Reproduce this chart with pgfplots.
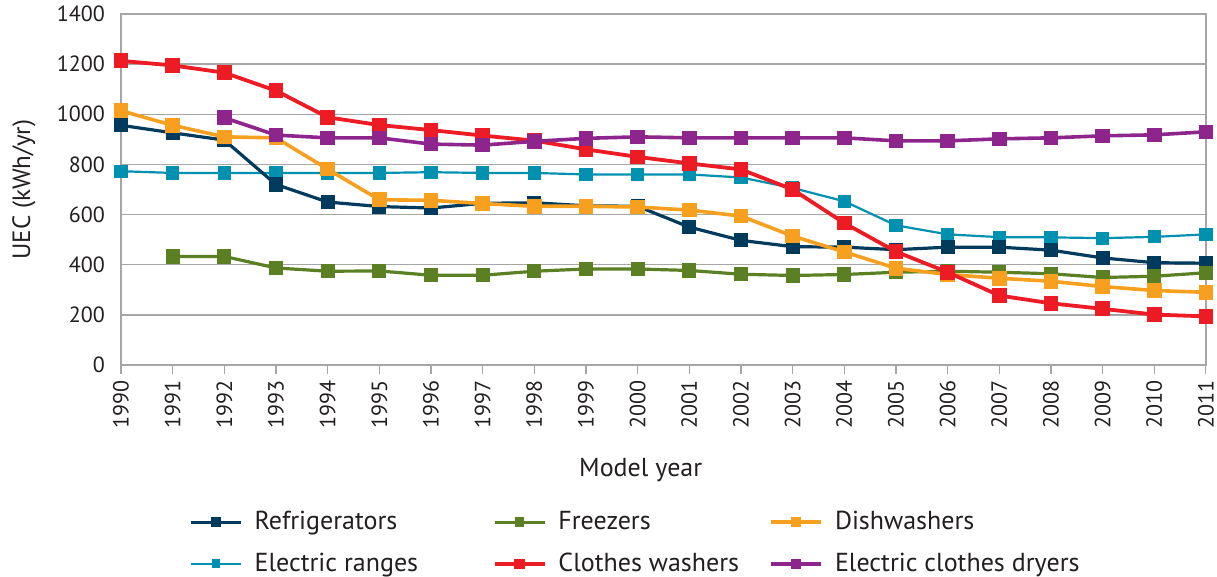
\documentclass[border=0pt]{standalone}
\usepackage{pgfplots}
\pgfplotsset{compat=1.18}
\usepackage{fontspec}
\setmainfont{PT Sans}
\definecolor{cnavy}{HTML}{003A5D}
\definecolor{cgreen}{HTML}{5B7F23}
\definecolor{corange}{HTML}{F7A020}
\definecolor{cteal}{HTML}{0091B0}
\definecolor{cred}{HTML}{ED1C24}
\definecolor{cpurple}{HTML}{8E258D}
\definecolor{cgrid}{HTML}{A6A6A6}
\definecolor{ctext}{HTML}{231F20}
\begin{document}
\begin{tikzpicture}
\begin{axis}[
  scale only axis,
  width=542.5pt, height=175.5pt,
  xmin=1990, xmax=2011, ymin=0, ymax=1400,
  xtick={1990,...,2011},
  ytick={0,200,...,1400},
  xticklabel style={rotate=90, anchor=east, inner sep=1pt, xshift=-2pt, font=\fontsize{11}{12}\selectfont, text=ctext},
  yticklabel style={font=\fontsize{11}{12}\selectfont, text=ctext},
  /pgf/number format/assume math mode=true,
  /pgf/number format/1000 sep={},
  xticklabel={\pgfmathprintnumber[1000 sep={}]{\tick}},
  tick align=outside,
  xtick pos=bottom,
  ytick style={draw=none},
  major tick length=4.5pt,
  xtick style={cgrid, line width=0.6pt},
  axis line style={cgrid, line width=0.7pt},
  ymajorgrids,
  grid style={cgrid, line width=0.7pt},
  ylabel={UEC (kWh/yr)},
  ylabel style={font=\fontsize{12.5}{14}\selectfont, text=ctext, at={(axis description cs:-0.0894,0.5)}, anchor=center},
  xlabel={Model year},
  xlabel style={font=\fontsize{13}{15}\selectfont, text=ctext, at={(axis description cs:0.479,-0.299)}, anchor=center},
  mark size=2.75pt,
  every axis plot/.append style={mark=square*},
  legend columns=3,
  legend style={at={(0.0627,-0.405)}, anchor=north west, draw=none, inner sep=0pt,
    font=\fontsize{13}{15}\selectfont, text=ctext, row sep=6pt,
    /tikz/every even column/.append style={column sep=10pt},
    /tikz/every odd column/.append style={column sep=4pt}},
  legend cell align=left,
  legend image code/.code={\draw[#1, mark size=1.6pt, mark repeat=2, mark phase=2] plot coordinates {(0pt,0pt) (12.5pt,0pt) (25pt,0pt)};},
]
\coordinate (sw) at (rel axis cs:0,0);
\coordinate (ne) at (rel axis cs:1,1);
% Electric ranges drawn first (below others)
\addplot[cteal, line width=1.1pt, mark options={fill=cteal}, forget plot] coordinates {
(1990,773)(1991,766)(1992,766)(1993,766)(1994,766)(1995,766)(1996,769)(1997,766)(1998,766)(1999,760)(2000,760)(2001,760)(2002,748)(2003,706)(2004,653)(2005,557)(2006,521)(2007,510)(2008,509)(2009,506)(2010,511)(2011,521)};
\addplot[cnavy, line width=1.6pt, mark options={fill=cnavy}] coordinates {
(1990,956)(1991,926)(1992,897)(1993,720)(1994,650)(1995,632)(1996,626)(1997,645)(1998,647)(1999,635)(2000,633)(2001,550)(2002,497)(2003,472)(2004,470)(2005,460)(2006,470)(2007,470)(2008,458)(2009,427)(2010,408)(2011,406)};
\addlegendentry{\makebox[107pt][l]{Refrigerators}}
\addplot[cgreen, line width=1.6pt, mark options={fill=cgreen}] coordinates {
(1991,433)(1992,433)(1993,387)(1994,374)(1995,375)(1996,358)(1997,358)(1998,374)(1999,383)(2000,383)(2001,377)(2002,362)(2003,357)(2004,361)(2005,370)(2006,374)(2007,370)(2008,364)(2009,349)(2010,354)(2011,368)};
\addlegendentry{\makebox[93.5pt][l]{Freezers}}
\addplot[corange, line width=1.8pt, mark options={fill=corange}] coordinates {
(1990,1014)(1991,956)(1992,910)(1993,906)(1994,781)(1995,659)(1996,657)(1997,644)(1998,633)(1999,633)(2000,630)(2001,618)(2002,594)(2003,514)(2004,451)(2005,386)(2006,361)(2007,346)(2008,334)(2009,313)(2010,297)(2011,290)};
\addlegendentry{Dishwashers}
\addlegendimage{cteal, line width=1.1pt, mark=square*, mark options={fill=cteal}}
\addlegendentry{\makebox[107pt][l]{Electric ranges}}
\addplot[cred, line width=1.9pt, mark options={fill=cred}] coordinates {
(1990,1213)(1991,1195)(1992,1166)(1993,1094)(1994,988)(1995,957)(1996,937)(1997,915)(1998,895)(1999,860)(2000,830)(2001,804)(2002,780)(2003,700)(2004,566)(2005,452)(2006,370)(2007,277)(2008,246)(2009,224)(2010,201)(2011,194)};
\addlegendentry{\makebox[93.5pt][l]{Clothes washers}}
\addplot[cpurple, line width=1.8pt, mark options={fill=cpurple}] coordinates {
(1992,986)(1993,917)(1994,906)(1995,906)(1996,881)(1997,877)(1998,892)(1999,904)(2000,910)(2001,906)(2002,906)(2003,906)(2004,906)(2005,894)(2006,894)(2007,902)(2008,906)(2009,914)(2010,918)(2011,930)};
\addlegendentry{Electric clothes dryers}
\end{axis}
\pgfresetboundingbox
\path[use as bounding box] ([xshift=-60.5pt,yshift=-106pt]sw) rectangle ([xshift=5.5pt,yshift=7pt]ne);
\end{tikzpicture}
\end{document}
